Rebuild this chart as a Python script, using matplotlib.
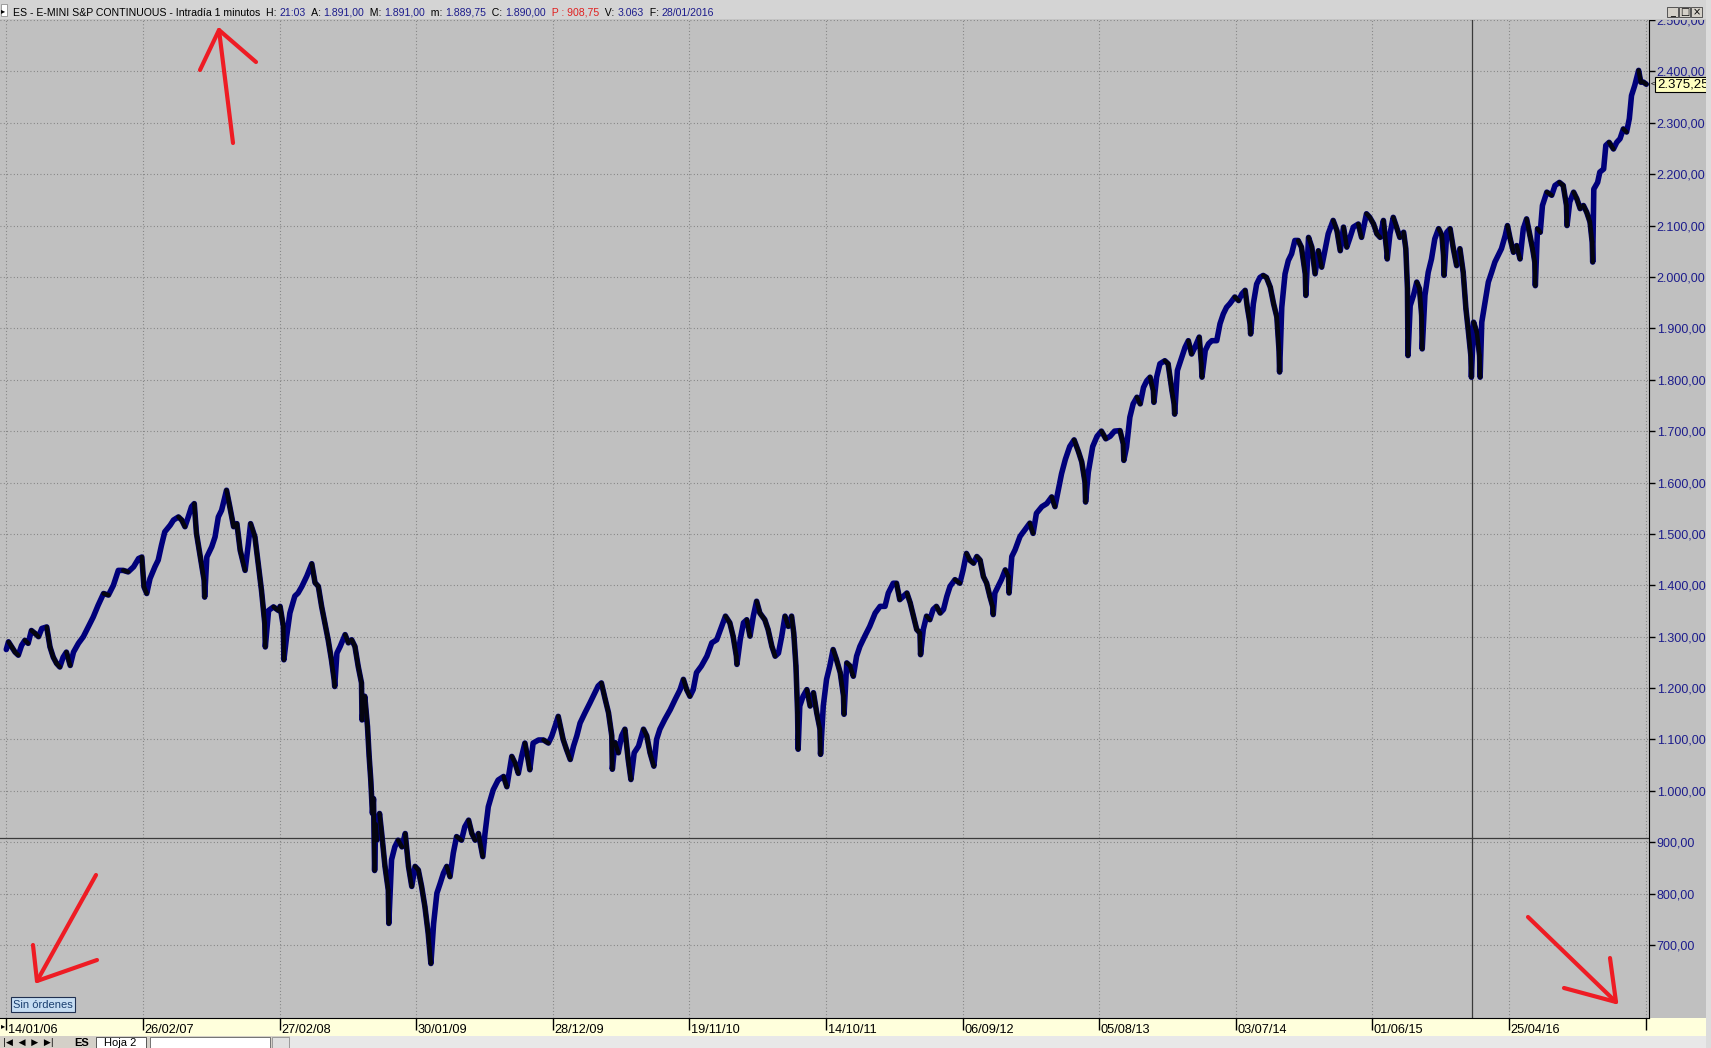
import numpy as np
import matplotlib.pyplot as plt
import matplotlib.transforms as mtransforms
from matplotlib.collections import LineCollection
from matplotlib.lines import Line2D
from matplotlib.patches import Rectangle

W, H = 1711, 1048

# ES continuous, one point per bar position (bar, close)
es_series = [
    (0, 1275), (4, 1290), (10, 1280), (16, 1270), (22, 1264), (28, 1283), (34, 1293), (40, 1287), (46, 1312), (53, 1306),
    (59, 1300), (65, 1316), (74, 1319), (80, 1280), (86, 1260), (92, 1248), (98, 1241), (104, 1260), (110, 1270), (117, 1244),
    (123, 1270), (132, 1287), (141, 1300), (150, 1319), (159, 1338), (168, 1361), (178, 1384), (187, 1381), (196, 1400), (205, 1429),
    (214, 1429), (223, 1426), (233, 1436), (242, 1452), (248, 1455), (252, 1397), (257, 1384), (263, 1413), (272, 1436), (278, 1449),
    (284, 1478), (290, 1504), (300, 1517), (306, 1527), (315, 1533), (321, 1527), (327, 1514), (333, 1533), (339, 1553), (344, 1559),
    (348, 1501), (355, 1455), (362, 1410), (363, 1377), (367, 1455), (376, 1475), (382, 1494), (388, 1533), (394, 1546), (403, 1585),
    (409, 1553), (416, 1514), (422, 1520), (428, 1468), (437, 1429), (443, 1481), (447, 1520), (455, 1494), (461, 1442), (467, 1390),
    (473, 1326), (474, 1280), (480, 1351), (489, 1358), (498, 1351),
    (501, 1359), (507, 1320), (508, 1255), (513, 1300), (519, 1346), (528, 1379), (534, 1385), (541, 1398), (550, 1418), (559, 1442),
    (565, 1405), (571, 1398), (577, 1359), (583, 1327), (589, 1294), (595, 1255), (600, 1216), (601, 1203), (605, 1268), (611, 1281),
    (620, 1304), (626, 1288), (632, 1294), (638, 1281), (644, 1242), (650, 1210), (651, 1138), (656, 1184), (661, 1125), (664, 1067),
    (667, 1021), (670, 956), (672, 985), (674, 845), (676, 935), (678, 904), (683, 956), (687, 917), (693, 853), (699, 807),
    (700, 742), (705, 866), (711, 891), (717, 904), (724, 891), (730, 917), (736, 853), (742, 814), (748, 853), (754, 846),
    (760, 814), (766, 775), (772, 723), (777, 664), (782, 742), (788, 801), (794, 820), (800, 840), (806, 853), (812, 833),
    (818, 879), (824, 911), (833, 904), (839, 930), (846, 943), (852, 917), (858, 904), (864, 917), (872, 872), (876, 917),
    (882, 969), (891, 1002), (900, 1021), (910, 1028), (916, 1008), (925, 1067), (931, 1054), (937, 1034), (943, 1067), (949, 1093),
    (955, 1060), (958, 1041), (964, 1093), (974, 1099), (983, 1099), (992, 1093), (998, 1106), (1004, 1125), (1010, 1145),
    (1019, 1100), (1025, 1081), (1032, 1061), (1038, 1087), (1044, 1107), (1050, 1132), (1059, 1152), (1068, 1171), (1077, 1191), (1083, 1204),
    (1089, 1210), (1096, 1178), (1102, 1152), (1108, 1107), (1109, 1042), (1114, 1094), (1120, 1074), (1126, 1107), (1132, 1120), (1138, 1061),
    (1143, 1022), (1149, 1074), (1157, 1087), (1166, 1120), (1172, 1107), (1178, 1074), (1185, 1048), (1190, 1100), (1196, 1120), (1205, 1139),
    (1215, 1158), (1224, 1178), (1233, 1197), (1239, 1217), (1245, 1197), (1251, 1184), (1257, 1197), (1263, 1230), (1272, 1243), (1282, 1262),
    (1291, 1288), (1300, 1294), (1309, 1320), (1316, 1340), (1324, 1327), (1330, 1301), (1336, 1262), (1337, 1246), (1343, 1294), (1349, 1327),
    (1355, 1333), (1361, 1301), (1367, 1340), (1373, 1369), (1379, 1346), (1388, 1333), (1394, 1314), (1401, 1281), (1407, 1262), (1413, 1268),
    (1419, 1301), (1425, 1340), (1431, 1320), (1437, 1340), (1441, 1307), (1445, 1243), (1448, 1152), (1449, 1081), (1452, 1165), (1458, 1184),
    (1465, 1197), (1471, 1165), (1477, 1191), (1483, 1152), (1489, 1120), (1490, 1071), (1495, 1165), (1501, 1217), (1507, 1243), (1513, 1275),
    (1519, 1256), (1526, 1230),
    (1532, 1185), (1533, 1149), (1538, 1249), (1544, 1243), (1550, 1223), (1556, 1262), (1562, 1281), (1571, 1301), (1580, 1320), (1590, 1346),
    (1599, 1359), (1608, 1359), (1614, 1385), (1623, 1404), (1629, 1404), (1635, 1372), (1641, 1378), (1648, 1385), (1654, 1366), (1660, 1340),
    (1666, 1314), (1672, 1307), (1673, 1265), (1678, 1314), (1684, 1340), (1690, 1333), (1696, 1353), (1702, 1359), (1709, 1346), (1715, 1353),
    (1721, 1378), (1727, 1398), (1736, 1411), (1745, 1404), (1751, 1430), (1757, 1462), (1763, 1449), (1770, 1443), (1776, 1456), (1782, 1449),
    (1788, 1417), (1794, 1404), (1800, 1378), (1805, 1359), (1806, 1343), (1809, 1385), (1815, 1398), (1821, 1411), (1828, 1430), (1834, 1417),
    (1835, 1385), (1840, 1456), (1846, 1469), (1855, 1495), (1864, 1508), (1873, 1521), (1879, 1501), (1885, 1540), (1895, 1553), (1904, 1559),
    (1913, 1572), (1919, 1553), (1925, 1585), (1931, 1617), (1938, 1645), (1946, 1670), (1954, 1683), (1962, 1660), (1968, 1640), (1974, 1600),
    (1975, 1562), (1980, 1620), (1988, 1670), (1996, 1690), (2004, 1700), (2012, 1685), (2020, 1690), (2028, 1700),
    (2038, 1701), (2044, 1675), (2045, 1643), (2050, 1669), (2056, 1727), (2062, 1753), (2069, 1766), (2075, 1753), (2081, 1785), (2087, 1798),
    (2093, 1805), (2099, 1779), (2100, 1756), (2105, 1805), (2111, 1831), (2120, 1837), (2126, 1831), (2133, 1779), (2137, 1753), (2138, 1733),
    (2143, 1818), (2151, 1844), (2157, 1863), (2163, 1876), (2169, 1850), (2175, 1863), (2183, 1883), (2187, 1831), (2188, 1805), (2194, 1857),
    (2200, 1870), (2206, 1876), (2215, 1876), (2221, 1909), (2227, 1928), (2233, 1941), (2239, 1948), (2248, 1961), (2255, 1954), (2261, 1967),
    (2267, 1974), (2271, 1941), (2276, 1909), (2277, 1889), (2282, 1948), (2288, 1986), (2294, 1999), (2300, 2003), (2306, 1999), (2313, 1980),
    (2319, 1948), (2325, 1922), (2329, 1857), (2330, 1815), (2334, 1941), (2340, 2006), (2346, 2032), (2352, 2045), (2358, 2071), (2364, 2071),
    (2370, 2058), (2377, 2006), (2378, 1964), (2383, 2077), (2389, 2058), (2395, 2006), (2401, 2051), (2407, 2019), (2413, 2051), (2419, 2084),
    (2428, 2110), (2435, 2090), (2441, 2051), (2447, 2097), (2453, 2058), (2459, 2077), (2465, 2097), (2474, 2103), (2480, 2077), (2489, 2123),
    (2495, 2116), (2502, 2103), (2508, 2084), (2514, 2077), (2520, 2110), (2526, 2051), (2527, 2035), (2532, 2084), (2538, 2116), (2544, 2097),
    (2550, 2077),
    (2557, 2087), (2561, 2055), (2564, 1977), (2565, 1847), (2569, 1944), (2575, 1964), (2581, 1990), (2586, 1977), (2590, 1925), (2591, 1860),
    (2596, 1964), (2602, 2009), (2608, 2035), (2614, 2074), (2621, 2094), (2627, 2081), (2630, 2042), (2631, 2003), (2636, 2087), (2642, 2094),
    (2648, 2055), (2654, 2022), (2660, 2055), (2666, 2009), (2671, 1938), (2675, 1899), (2680, 1847), (2681, 1805), (2685, 1912), (2691, 1892),
    (2696, 1847), (2697, 1805), (2700, 1912), (2706, 1951), (2712, 1990), (2718, 2009), (2724, 2029), (2730, 2042), (2736, 2055), (2743, 2081),
    (2747, 2100), (2752, 2074), (2758, 2048), (2764, 2061), (2770, 2035), (2776, 2094), (2782, 2113), (2788, 2081), (2793, 2055), (2797, 2029),
    (2798, 1983), (2802, 2094), (2807, 2087), (2811, 2139), (2819, 2165), (2828, 2159), (2834, 2178), (2842, 2184), (2849, 2178), (2855, 2139),
    (2856, 2100), (2861, 2146), (2868, 2165), (2874, 2152), (2880, 2133), (2886, 2139), (2892, 2126), (2898, 2107), (2902, 2068), (2903, 2029),
    (2905, 2171), (2912, 2184), (2916, 2204), (2923, 2210), (2927, 2256), (2933, 2262), (2941, 2249), (2947, 2262), (2953, 2269), (2959, 2288),
    (2965, 2282), (2970, 2308), (2974, 2353), (2980, 2373), (2987, 2402), (2991, 2379), (2996, 2379), (3001, 2375),
]

date_labels = ['14/01/06', '26/02/07', '27/02/08', '30/01/09', '28/12/09', '19/11/10',
               '14/10/11', '06/09/12', '05/08/13', '03/07/14', '01/06/15', '25/04/16']
date_bars = [0, 250, 500, 750, 1000, 1250, 1500, 1750, 2000, 2250, 2500, 2750]
extra_tick = 3000
price_ticks = list(range(700, 2501, 100))
last_price = 2375.25
cross_bar = 2682
cross_price = 908.75

navy = '#1c1c8c'
header_parts = [
    ('ES - E-MINI S&P CONTINUOUS - Intradía 1 minutos  ', 'black'), ('H: ', 'black'), ('21:03', navy),
    ('  A: ', 'black'), ('1.891,00', navy), ('  M: ', 'black'), ('1.891,00', navy),
    ('  m: ', 'black'), ('1.889,75', navy), ('  C: ', 'black'), ('1.890,00', navy),
    ('  P : 908,75', '#e02020'), ('  V: ', 'black'), ('3.063', navy), ('  F: ', 'black'), ('28/01/2016', navy),
]

# hand drawn red arrows (screen pixels from top-left): shaft, then head
red_marks = [
    [(233, 143), (219, 30)], [(200, 70), (219, 30), (256, 62)],
    [(96, 875), (37, 981)], [(33, 945), (37, 981), (97, 960)],
    [(1528, 917), (1616, 1002)], [(1610, 958), (1616, 1002), (1564, 988)],
]


def es_fmt(v):
    s = f"{v:,.2f}"
    return s.replace(",", "X").replace(".", ",").replace("X", ".")


def box(x0, y0, x1, y1):
    return [x0 / W, 1 - y1 / H, (x1 - x0) / W, (y1 - y0) / H]


plt.rcParams['font.family'] = ['Liberation Sans', 'DejaVu Sans']

fig = plt.figure(figsize=(W / 100, H / 100), dpi=100, facecolor='#C0C0C0')

# yellow date strip under the chart
dbar = fig.add_axes(box(0, 1018, 1706, 1036), zorder=1)
dbar.set_facecolor('#FFFFDC')
dbar.set_xticks([]); dbar.set_yticks([])
for s in dbar.spines.values():
    s.set_visible(False)

ax = fig.add_axes(box(0, 20, 1649, 1018), zorder=2)
ax.set_facecolor('#C0C0C0')
ax.set_xlim(-11.5, 3006)
ax.set_ylim(558, 2499)

bars = np.array([p[0] for p in es_series], dtype=float)
closes = np.array([p[1] for p in es_series], dtype=float)

# blue base line, down moves painted black on top
ax.plot(bars, closes, color='#00007a', lw=4.0, zorder=3, solid_joinstyle='round', solid_capstyle='round')
pts = np.column_stack([bars, closes])
segs = np.stack([pts[:-1], pts[1:]], axis=1)
down = closes[1:] < closes[:-1]
ax.add_collection(LineCollection(segs[down], colors='#050510', linewidths=3.2, zorder=4,
                                 capstyle='round', joinstyle='round'))

# crosshair
ax.axhline(cross_price, color='#3a3a3a', lw=0.9, zorder=2.5)
ax.axvline(cross_bar, color='#3a3a3a', lw=0.9, zorder=2.5)

ax.set_yticks(price_ticks, [es_fmt(v) for v in price_ticks])
ax.yaxis.tick_right()
ax.tick_params(axis='y', length=4, width=1, color='black', labelcolor=navy, labelsize=9, pad=1.5)
ax.set_xticks(date_bars + [extra_tick])
ax.tick_params(axis='x', direction='out', length=8.5, width=1, color='black', labelbottom=False)
ax.grid(True, color='#7c7c7c', linestyle=(0, (0.8, 2.2)), lw=0.8, zorder=1)

for side in ['left', 'top']:
    ax.spines[side].set_visible(False)
ax.spines['right'].set_color('black')
ax.spines['bottom'].set_color('black')

trans = mtransforms.offset_copy(ax.get_xaxis_transform(), fig=fig, x=1.5, y=-6, units='dots')
for b, lab in zip(date_bars, date_labels):
    ax.text(b, 0, lab, transform=trans, ha='left', va='top', fontsize=9.2, color='black')

# last price tag
ax.annotate(es_fmt(last_price), xy=(1, last_price), xycoords=('axes fraction', 'data'),
            xytext=(8, 0), textcoords='offset pixels', ha='left', va='center', fontsize=9.5,
            color='black', annotation_clip=False,
            bbox=dict(boxstyle='square,pad=0.12', fc='#FFFFC0', ec='black', lw=0.8))
ax.annotate('<', xy=(1, last_price), xycoords=('axes fraction', 'data'),
            xytext=(2, 0), textcoords='offset pixels', ha='left', va='center', fontsize=6,
            color='black', annotation_clip=False)

# header bar
hdr = fig.add_axes(box(0, 0, W, 20), zorder=5)
hdr.set_facecolor('#D4D4D4')
hdr.set_xlim(0, W); hdr.set_ylim(20, 0)
hdr.set_xticks([]); hdr.set_yticks([])
for s in hdr.spines.values():
    s.set_visible(False)
hdr.axhline(19.5, color='#808080', lw=1)
hdr.add_patch(Rectangle((0.5, 4), 7, 12, fc='white', ec='#909090', lw=0.6))
hdr.text(1.2, 10.5, '▸', fontsize=6, va='center', family='DejaVu Sans')
r = fig.canvas.get_renderer()
x = 13
for s, c in header_parts:
    t = hdr.text(x, 12.5, s, fontsize=7.6, color=c, va='center', ha='left')
    x += t.get_window_extent(renderer=r).width
for i, g in enumerate(['_', '□', '×']):
    bx = 1667 + i * 12
    hdr.add_patch(Rectangle((bx, 7), 11, 10, fc='#D4D0C8', ec='#404040', lw=0.6))
    hdr.text(bx + 5.5, 12, g, fontsize=7, ha='center', va='center', family='DejaVu Sans')

# sheet tabs at the bottom
tab = fig.add_axes(box(0, 1036, W, H), zorder=5)
tab.set_facecolor('#D4D0C8')
tab.set_xlim(0, W); tab.set_ylim(12, 0)
tab.set_xticks([]); tab.set_yticks([])
for s in tab.spines.values():
    s.set_visible(False)
tab.add_patch(Rectangle((290, 0), W - 290, 12, fc='#E8E8E8', ec='none'))
tab.add_patch(Rectangle((150, 0.5), 120, 11, fc='white', ec='#606060', lw=0.6))
tab.add_patch(Rectangle((272, 0.5), 17, 11, fc='#E0E0E0', ec='#909090', lw=0.6))
tab.add_patch(Rectangle((96, 0.5), 50, 11, fc='white', ec='#404040', lw=0.6))
tab.text(3, 6.5, '|◀  ◀  ▶  ▶|', fontsize=6.5, va='center', family='DejaVu Sans')
tab.text(74, 6.5, 'ES', fontsize=8, fontweight='bold', va='center')
tab.text(104, 6.5, 'Hoja 2', fontsize=8, va='center')

# date strip arrow button and right edge
fig.text(1 / W, 1 - 1026 / H, '▸', fontsize=6, va='center', family='DejaVu Sans', zorder=6)
fig.add_artist(Rectangle((1706 / W, 0), 5 / W, 1, transform=fig.transFigure, fc='#DCDCDC', ec='none', zorder=6))

fig.text(13 / W, 1 - 1004.5 / H, 'Sin órdenes', fontsize=8, color='#1a3f6f', ha='left', va='center', zorder=6,
         bbox=dict(boxstyle='square,pad=0.2', fc='#C6DDF2', ec='#203050', lw=0.8))

for mark in red_marks:
    xs = [p[0] / W for p in mark]
    ys = [1 - p[1] / H for p in mark]
    fig.add_artist(Line2D(xs, ys, transform=fig.transFigure, color='#EE1C24', lw=3,
                          solid_capstyle='round', solid_joinstyle='round', zorder=10))

fig.savefig('out.png', dpi=100, facecolor=fig.get_facecolor())
